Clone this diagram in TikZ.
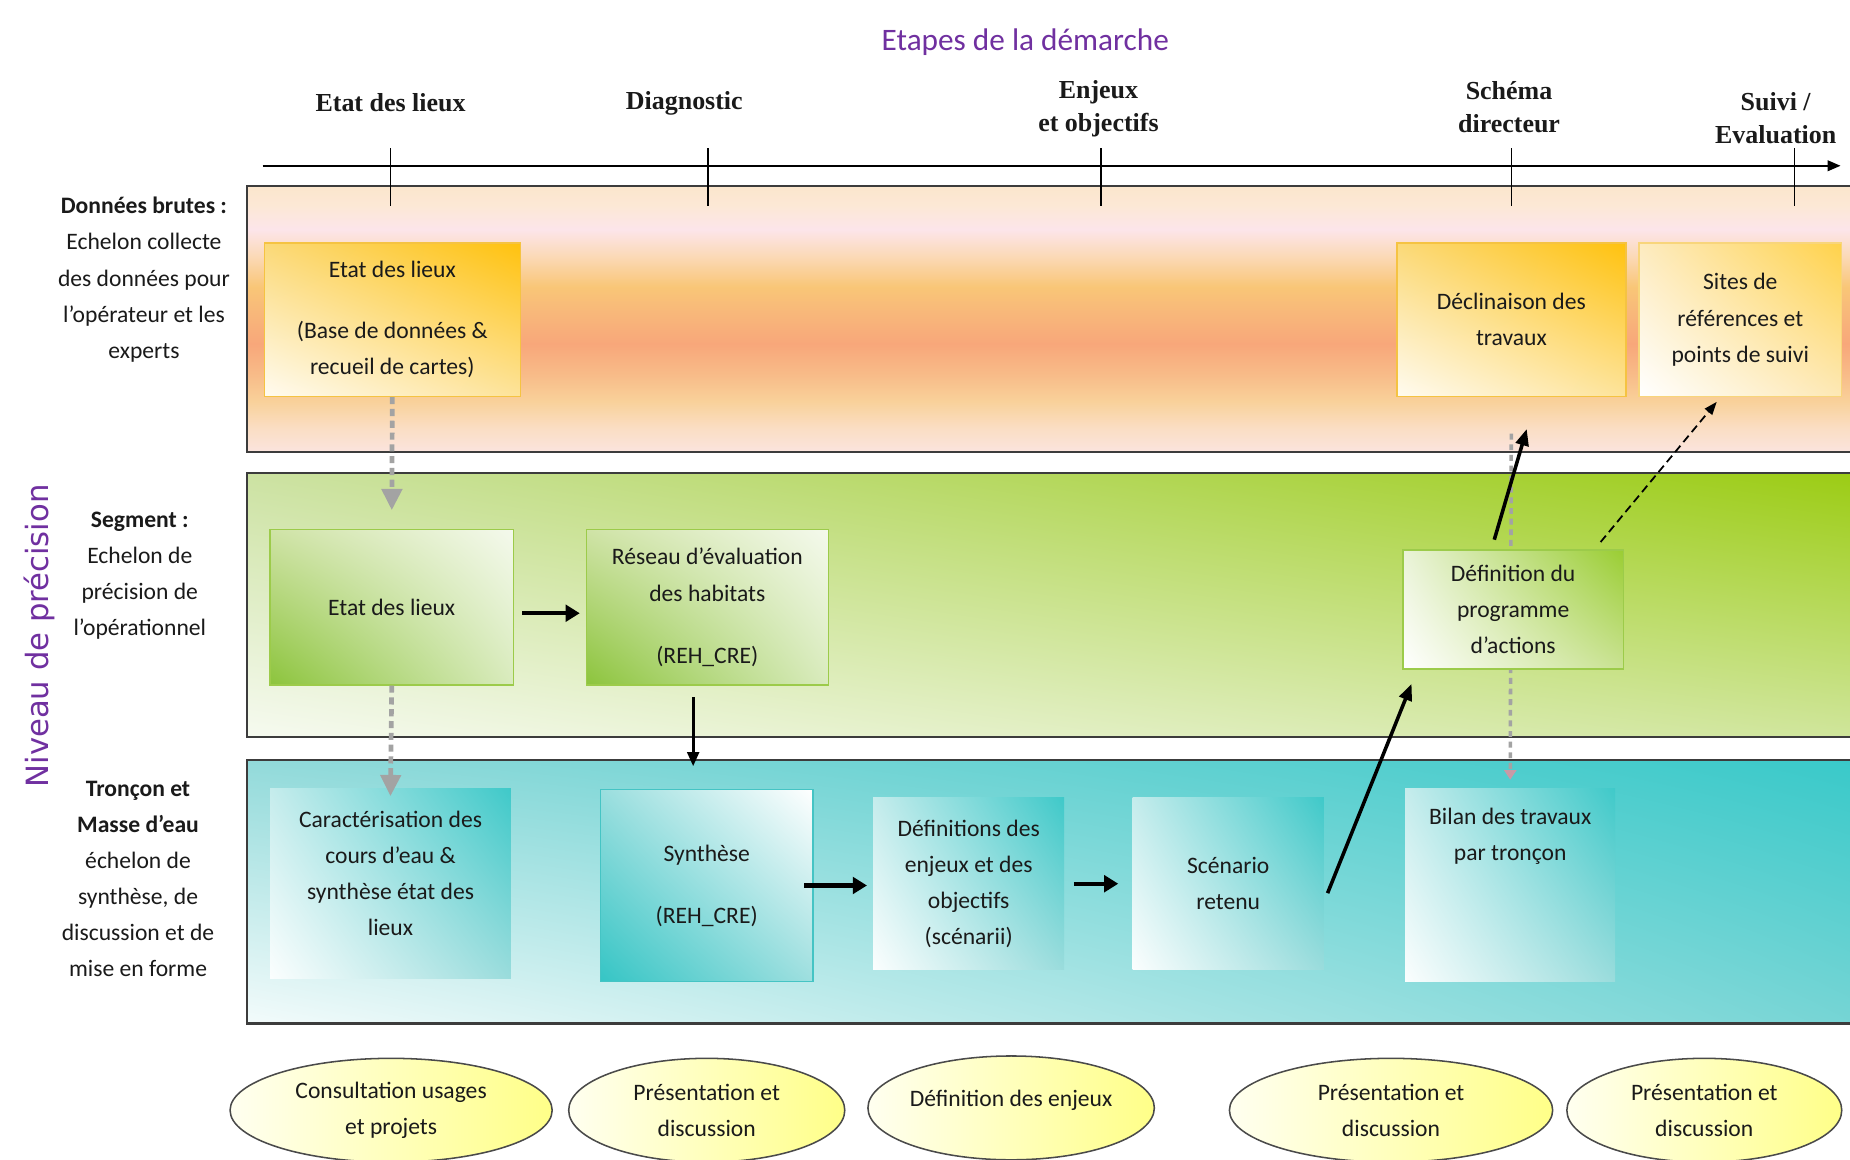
\documentclass[tikz,border=0pt]{standalone}
\usepackage{fontspec}
\setmainfont{Carlito}
\newfontfamily\stagefont{Liberation Serif}
\newfontfamily\sidefont{DejaVu Sans}
\usetikzlibrary{arrows.meta,shapes.geometric,shadings}

% text and line colours
\definecolor{inkc}{HTML}{1A1A1A}
\definecolor{purplec}{HTML}{7030A0}
\definecolor{framec}{HTML}{3C3C3C}
\definecolor{dashgray}{HTML}{A3A3A3}
\definecolor{pinkgray}{HTML}{C89AA6}
% orange band, bottom to top
\definecolor{ob1}{HTML}{FBE4DE}
\definecolor{ob2}{HTML}{FADEC4}
\definecolor{ob3}{HTML}{F9D19A}
\definecolor{ob4}{HTML}{F8BB88}
\definecolor{ob5}{HTML}{F8A77A}
\definecolor{ob6}{HTML}{F8B77A}
\definecolor{ob7}{HTML}{F9C677}
\definecolor{ob8}{HTML}{FBD9B6}
\definecolor{ob9}{HTML}{FCE5EA}
\definecolor{ob10}{HTML}{FCE8D6}
\definecolor{ob11}{HTML}{FBE6CC}
% green band
\definecolor{gbUL}{HTML}{CCE2A2}
\definecolor{gbUR}{HTML}{9BCC12}
\definecolor{gbLL}{HTML}{F6FAF0}
\definecolor{gbLR}{HTML}{CFE59A}
% teal band
\definecolor{tbUL}{HTML}{92DADA}
\definecolor{tbUR}{HTML}{38C9C9}
\definecolor{tbLL}{HTML}{F3FBFB}
\definecolor{tbLR}{HTML}{74D4D4}
% gold boxes
\definecolor{goUL}{HTML}{FBD978}
\definecolor{goUR}{HTML}{FFC20E}
\definecolor{goLL}{HTML}{FFFBF0}
\definecolor{goLR}{HTML}{FDE39A}
\definecolor{goEdge}{HTML}{F5C342}
\definecolor{slUL}{HTML}{FDEBC0}
\definecolor{slUR}{HTML}{FFD24A}
\definecolor{slLR}{HTML}{FDE8B5}
% green boxes
\definecolor{grUL}{HTML}{CFE3A6}
\definecolor{grUR}{HTML}{F4F9EC}
\definecolor{grLL}{HTML}{8CC43C}
\definecolor{grLR}{HTML}{D9EBBD}
\definecolor{grEdge}{HTML}{9CCB4A}
\definecolor{pgUL}{HTML}{EAF3D8}
\definecolor{pgUR}{HTML}{9ACD32}
\definecolor{pgLR}{HTML}{C9E292}
% teal boxes
\definecolor{teUL}{HTML}{C5ECEC}
\definecolor{teUR}{HTML}{3FC9C9}
\definecolor{teLL}{HTML}{FBFEFE}
\definecolor{teLR}{HTML}{9ADCDC}
\definecolor{syUL}{HTML}{9ADEDE}
\definecolor{syLL}{HTML}{35C5C5}
\definecolor{syLR}{HTML}{9EDFDF}
\definecolor{syEdge}{HTML}{45C4C4}
% meeting ellipses
\definecolor{elL}{HTML}{FFFFF0}
\definecolor{elR}{HTML}{FFFF88}
\definecolor{elEdge}{HTML}{4A4A4A}

\pgfdeclareverticalshading{orangeband}{100bp}{color(0bp)=(ob1); color(25bp)=(ob1); color(29.4bp)=(ob2); color(34.5bp)=(ob3); color(39.6bp)=(ob4); color(45.3bp)=(ob5); color(51bp)=(ob6); color(56bp)=(ob7); color(61.7bp)=(ob8); color(66.8bp)=(ob9); color(71.2bp)=(ob10); color(75bp)=(ob11); color(100bp)=(ob11)}

\newcommand\boxfont{\fontsize{20}{30.6}\selectfont}

\begin{document}
\begin{tikzpicture}[x=1pt,y=-1pt,
  band/.style={rectangle, draw=framec, line width=1.8pt, minimum width=1380pt, inner sep=0pt},
  boxbase/.style={rectangle, inner sep=0pt, align=center, font=\boxfont, text=inkc},
  boxtext/.style={inner sep=0pt, align=center, font=\boxfont, text=inkc},
  goldbox/.style={boxbase, upper left=goUL, upper right=goUR, lower left=goLL, lower right=goLR, draw=goEdge, line width=1.2pt},
  sitebox/.style={boxbase, upper left=slUL, upper right=slUR, lower left=white, lower right=slLR, draw=goEdge!70, line width=1.2pt},
  greenbox/.style={boxbase, upper left=grUL, upper right=grUR, lower left=grLL, lower right=grLR, draw=grEdge, line width=1.2pt},
  progbox/.style={boxbase, upper left=pgUL, upper right=pgUR, lower left=white, lower right=pgLR, draw=grEdge, line width=1.2pt},
  tealbox/.style={boxbase, upper left=teUL, upper right=teUR, lower left=teLL, lower right=teLR},
  synthbox/.style={boxbase, upper left=syUL, upper right=white, lower left=syLL, lower right=syLR, draw=syEdge, line width=1.2pt},
  sidelabel/.style={inner sep=0pt, align=center, font=\boxfont, text=inkc},
  stagelabel/.style={inner sep=0pt, align=center, font=\stagefont\bfseries\fontsize{22}{28}\selectfont, text=inkc},
  meeting/.style={ellipse, inner sep=0pt, left color=elL, right color=elR, draw=elEdge, line width=1.3pt, align=center, font=\boxfont, text=inkc},
  grayflow/.style={draw=dashgray, line width=4pt, dash pattern=on 6pt off 4pt, -{Triangle[length=18pt,width=17pt]}},
  flow/.style={draw=black, line width=3.6pt, -{Triangle[length=12pt,width=14pt]}},
  thinflow/.style={draw=black, line width=2.4pt, -{Triangle[length=12pt,width=10pt]}},
  longflow/.style={draw=black, line width=3pt, -{Triangle[length=14pt,width=11pt]}},
  dashflow/.style={draw=black, line width=1.5pt, dash pattern=on 7pt off 4pt, -{Triangle[length=11pt,width=8pt]}},
  tick/.style={draw=black, line width=1.2pt}
]
\clip (0,0) rectangle (1568,983);
\fill[white] (0,0) rectangle (1568,983);

% precision levels
\node[band, shading=orangeband, minimum height=225.5pt] (rawband) at (899,270.25) {};
\node[band, upper left=gbUL, upper right=gbUR, lower left=gbLL, lower right=gbLR, minimum height=223.6pt] (segband) at (899,512.8) {};
\node[band, upper left=tbUL, upper right=tbUR, lower left=tbLL, lower right=tbLR, minimum height=223.5pt] (reachband) at (899,755.75) {};

% time axis with the steps
\foreach \tx in {331,600,933,1281,1521}
  \draw[tick] (\tx,125.7) -- (\tx,175);
\coordinate (axstart) at (222.5,140.5);
\coordinate (axend) at (1560,140.5);
\draw[line width=1.6pt, -{Triangle[length=11pt,width=9pt]}] (axstart) -- (axend);

% raw data level
\node[goldbox, minimum width=217pt, minimum height=130pt] (edl1) at (332.5,271) {Etat des lieux\\[21pt](Base de données \&\\recueil de cartes)};
\node[goldbox, minimum width=194pt, minimum height=130pt] (decl) at (1281,271) {Déclinaison des\\travaux};
\node[sitebox, minimum width=172pt, minimum height=130pt] (sites) at (1475,271) {Sites de\\références et\\points de suivi};

% segment level
\node[greenbox, minimum width=206pt, minimum height=131.5pt] (edl2) at (332,514.75) {Etat des lieux};
\node[greenbox, minimum width=205pt, minimum height=131.5pt] (reh) at (599.5,514.75) {Réseau d'évaluation\\des habitats\\[22pt](REH\_CRE)};

% reach / water body level
\node[tealbox, minimum width=204pt, minimum height=161pt] (caract) at (331,748.5) {};
\node[boxtext] (caracttext) at (331,740) {Caractérisation des\\cours d’eau \&\\synthèse état des\\lieux};
\node[synthbox, minimum width=180pt, minimum height=163pt] (synth) at (599,750.5) {Synthèse\\[22pt](REH\_CRE)};
\node[tealbox, minimum width=162pt, minimum height=146pt] (defs) at (821,749) {Définitions des\\enjeux et des\\objectifs\\(scénarii)};
\node[tealbox, minimum width=162pt, minimum height=146pt] (scen) at (1041,749) {Scénario\\retenu};
\node[tealbox, minimum width=178pt, minimum height=164pt] (bilan) at (1280,750) {};
\node[boxtext] (bilantext) at (1280,709) {Bilan des travaux\\par tronçon};

% dotted links between levels
\draw[grayflow, shorten >=16pt] (edl1.south) -- (edl2.north);
\draw[grayflow, shorten >=-7pt] (edl2.south) -- (caract.north);
\draw[draw=dashgray, line width=3pt, dash pattern=on 5pt off 4pt, shorten <=31pt, shorten >=7pt, -{Triangle[length=8pt,width=10pt,color=pinkgray]}] (decl.south) -- (bilan.north);

\node[progbox, minimum width=187pt, minimum height=101pt] (defprog) at (1282.5,516.5) {Définition du\\programme\\d'actions};

% work flow
\draw[flow, shorten <=7pt, shorten >=5pt] ([yshift=-5pt]edl2.east) -- ([yshift=-5pt]reh.west);
\draw[thinflow, shorten <=10pt, shorten >=19pt] ([xshift=-12pt]reh.south) -- ([xshift=-12pt]reh.south |- synth.north);
\draw[flow, shorten <=-8pt, shorten >=5pt] (synth.east) -- (synth.east -| defs.west);
\draw[flow, shorten <=8pt, shorten >=12pt] (defs.east) -- (defs.east -| scen.west);
\draw[longflow] ([xshift=3pt,yshift=-8pt]scen.east) -- ([xshift=8pt,yshift=-12pt]defprog.south west);
\draw[longflow] ([xshift=-16pt,yshift=8pt]defprog.north) -- ([xshift=13pt,yshift=-27pt]decl.south);
\draw[dashflow] ([xshift=-20pt,yshift=6pt]defprog.north east) -- ([xshift=-20pt,yshift=-4pt]sites.south);

% headings
\node[font=\fontsize{26.5}{30}\selectfont, text=purplec, inner sep=0pt] (title) at (869,36) {Etapes de la démarche};
\node[stagelabel] (stage1) at (331,87) {Etat des lieux};
\node[stagelabel] (stage2) at (580,88) {Diagnostic};
\node[stagelabel] (stage3) at (931,92) {Enjeux\\et objectifs};
\node[stagelabel] (stage4) at (1279,91) {Schéma\\directeur};
\node[stagelabel] (stage5) at (1505,100.5) {Suivi /\\Evaluation};

% level names
\node[rotate=90, font=\sidefont\fontsize{26}{30}\selectfont, text=purplec, inner sep=0pt] (niveau) at (33,539) {Niveau de précision};
\node[sidelabel] (lvlraw) at (122,237) {\textbf{Données brutes :}\\Echelon collecte\\des données pour\\l’opérateur et les\\experts};
\node[sidelabel] (lvlseg) at (118.5,488) {\textbf{Segment :}\\Echelon de\\précision de\\l’opérationnel};
\node[sidelabel] (lvlreach) at (117,745) {\textbf{Tronçon et}\\\textbf{Masse d'eau}\\échelon de\\synthèse, de\\discussion et de\\mise en forme};

% consultation meetings
\node[meeting, minimum width=273pt, minimum height=88pt] (meet1) at (331.5,941) {Consultation usages\\et projets};
\node[meeting, minimum width=234pt, minimum height=88pt] (meet2) at (599,941) {Présentation et\\discussion};
\node[meeting, minimum width=234pt, minimum height=88pt] (meet3) at (857,939) {\raisebox{6pt}[\height][\depth]{Définition des enjeux}};
\node[meeting, minimum width=274pt, minimum height=88pt] (meet4) at (1179,941) {Présentation et\\discussion};
\node[meeting, minimum width=233pt, minimum height=88pt] (meet5) at (1444.5,941) {Présentation et\\discussion};
\end{tikzpicture}
\end{document}
